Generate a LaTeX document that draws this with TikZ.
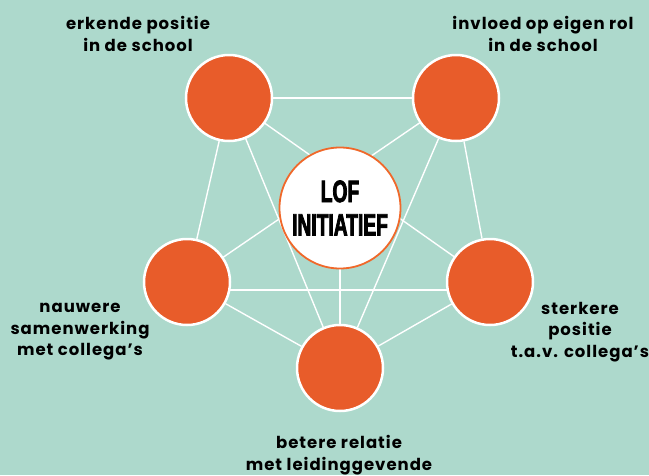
\documentclass[tikz,border=0pt]{standalone}
\usepackage{fontspec}
\setmainfont{Poppins}
\newfontfamily\labfont[LetterSpace=6]{Poppins}
\newfontfamily\centfont[FakeStretch=0.62,FakeBold=2.5]{Liberation Sans}
\usetikzlibrary{backgrounds}
\definecolor{bgmint}{HTML}{ADD9CC}
\definecolor{dotorange}{HTML}{E85C2A}
\definecolor{ringorange}{HTML}{F0682A}
\tikzset{
  outer/.style={circle, fill=dotorange, draw=white, line width=2.5pt, minimum size=86pt, inner sep=0pt},
  hub/.style={circle, fill=white, draw=ringorange, line width=1.8pt, minimum size=121pt, inner sep=0pt,
    align=center, font=\centfont\bfseries\fontsize{31}{33.5}\selectfont},
  lab/.style={align=center, font=\labfont\bfseries\fontsize{16.5}{21.5}\selectfont, text=black, inner sep=0pt},
  link/.style={draw=white, line width=1.4pt}
}
\begin{document}
\begin{tikzpicture}[x=1pt,y=-1pt]
\useasboundingbox (0,0) rectangle (649,475);
\node[hub] (C) at (340,208) {LOF\\INITIATIEF};
\node[outer] (TL) at (229,98) {};
\node[outer] (TR) at (456,98) {};
\node[outer] (L) at (187,282) {};
\node[outer] (R) at (490,282) {};
\node[outer] (B) at (340,368) {};
\begin{scope}[on background layer]
\fill[bgmint] (0,0) rectangle (649,475);
\path[link] (TL) -- (TR);
\path[link] (TR) -- (R);
\path[link] (R) -- (B);
\path[link] (B) -- (L);
\path[link] (L) -- (TL);
\path[link] (TL) -- (B);
\path[link] (TR) -- (B);
\path[link] (TL.center) -- (R.center);
\path[link] (TR.center) -- (L.center);
\path[link] ([yshift=-8pt]L.center) -- ([yshift=-8pt]R.center);
\path[link] (C) -- (B);
\end{scope}
\node[lab] (tTL) at (138,34) {erkende positie\\in de school};
\node[lab] (tTR) at (543,34) {invloed op eigen rol\\in de school};
\node[lab] (tL) at (80,332) {nauwere\\samenwerking\\met collega’s};
\node[lab] (tR) at (580,332) {sterkere\\positie\\t.a.v. collega’s};
\node[lab] (tB) at (339,455) {betere relatie\\met leidinggevende};
\end{tikzpicture}
\end{document}
